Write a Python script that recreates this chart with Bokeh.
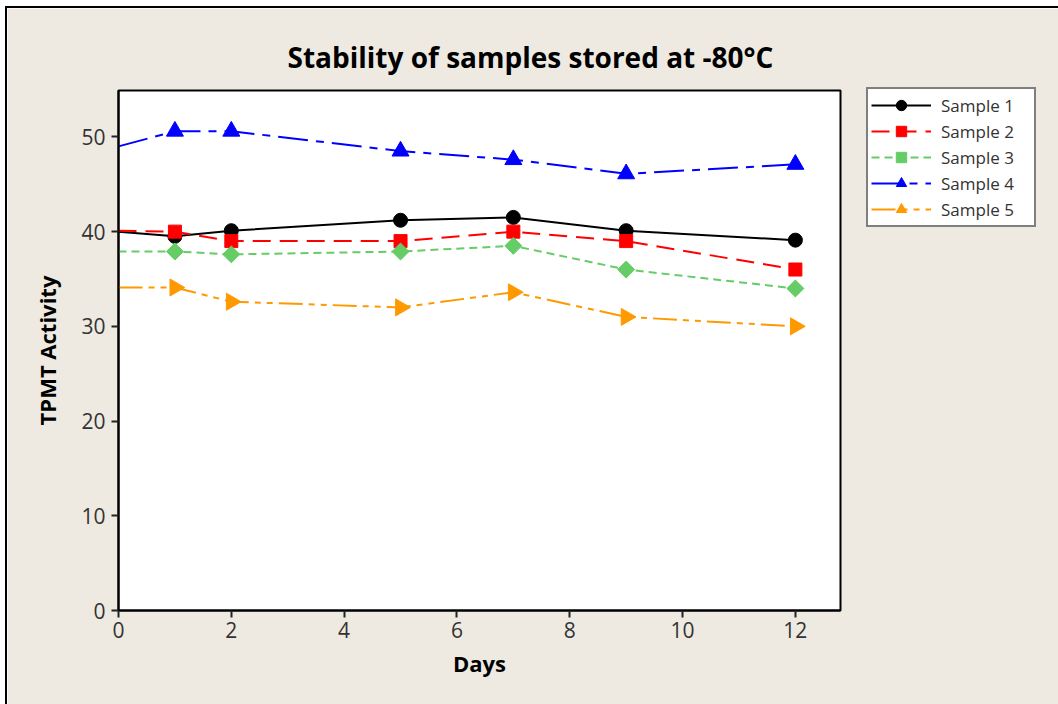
from bokeh.plotting import figure
from bokeh.models import Range1d, FixedTicker, Legend, LegendItem, Title
from bokeh.embed import file_html
from bokeh.resources import INLINE

days = [0, 1, 2, 5, 7, 9, 12]
sample1 = [40.0, 39.5, 40.1, 41.2, 41.5, 40.1, 39.1]
sample2 = [40.1, 40.0, 39.0, 39.0, 40.0, 39.0, 36.0]
sample3 = [37.9, 37.9, 37.6, 37.9, 38.5, 36.0, 34.0]
sample4 = [49.0, 50.6, 50.6, 48.5, 47.6, 46.1, 47.1]
sample5 = [34.1, 34.1, 32.6, 32.0, 33.6, 31.0, 30.0]
names = ["Sample 1", "Sample 2", "Sample 3", "Sample 4", "Sample 5"]
x_ticks = [0, 2, 4, 6, 8, 10, 12]
y_ticks = [0, 10, 20, 30, 40, 50]

BG = "#EEEAE1"
FONT = "Open Sans"

p = figure(width=1051, height=696, output_backend="svg", toolbar_location=None,
           x_range=Range1d(0, 12.8), y_range=Range1d(0, 54.9),
           frame_width=722, frame_height=520,
           min_border_left=111, min_border_top=82, min_border_right=218, min_border_bottom=94)
p.styles = {"margin-left": "5px", "margin-top": "6px",
            "border-left": "2px solid #000", "border-top": "2px solid #000"}
p.background_fill_color = "white"
p.border_fill_color = BG
p.outline_line_color = "black"
p.outline_line_width = 2
p.grid.visible = False

for ax in (p.xaxis[0], p.yaxis[0]):
    ax.major_tick_out = 7
    ax.major_tick_in = 0
    ax.minor_tick_line_color = None
    ax.axis_line_width = 2
    ax.major_tick_line_width = 2
    ax.axis_line_color = "black"
    ax.major_tick_line_color = "#222"
    ax.major_label_text_font = FONT
    ax.major_label_text_font_size = "21px"
    ax.major_label_text_font_style = "normal"
    ax.major_label_text_color = "#333"
    ax.axis_label_text_font = FONT
    ax.axis_label_text_font_size = "22px"
    ax.axis_label_text_font_style = "bold"
    ax.axis_label_text_color = "black"

p.xaxis[0].ticker = FixedTicker(ticks=x_ticks)
p.yaxis[0].ticker = FixedTicker(ticks=y_ticks)
p.xaxis[0].axis_label = "Days"
p.yaxis[0].axis_label = "TPMT Activity"
p.xaxis[0].major_label_standoff = 4
p.yaxis[0].major_label_standoff = 6
p.xaxis[0].axis_label_standoff = 7
p.yaxis[0].axis_label_standoff = 16

series = [sample1, sample2, sample3, sample4, sample5]
colors = ["black", "#FF0000", "#66CC66", "#0000FF", "#FF9900"]
dashes = ["solid", "18 9", "8 5", "30 8 8 8", "24 6 6 6 6 6"]
markers = ["circle", "square", "square", "triangle", "triangle"]
sizes = [14, 13, 12, 17, 17]
angles = [0, 0, 0.7854, 0, -1.5708]

items = []
for name, ys, c, d, m, s, a in zip(names, series, colors, dashes, markers, sizes, angles):
    ln = p.line(days, ys, line_color=c, line_width=2, line_dash=d)
    sc = p.scatter(days[1:], ys[1:], marker=m, size=s, angle=a,
                   fill_color=c, line_color=c)
    items.append(LegendItem(label=name, renderers=[ln, sc]))

legend = Legend(items=items, location=(26, 383),
                label_text_font=FONT, label_text_font_size="17px",
                label_text_color="#333", glyph_width=60, glyph_height=26,
                label_standoff=10, label_width=90, spacing=0, padding=3, margin=0,
                border_line_color="black", border_line_width=2,
                background_fill_color="white", background_fill_alpha=1,
                label_height=26)
p.add_layout(legend, "right")

title = Title(text="Stability of samples stored at -80°C", align="left", offset=169,
              text_font=FONT, text_font_size="28px", text_font_style="bold",
              text_color="black", standoff=30)
p.add_layout(title, "above")

open("out.html", "w").write(file_html(p, INLINE))
